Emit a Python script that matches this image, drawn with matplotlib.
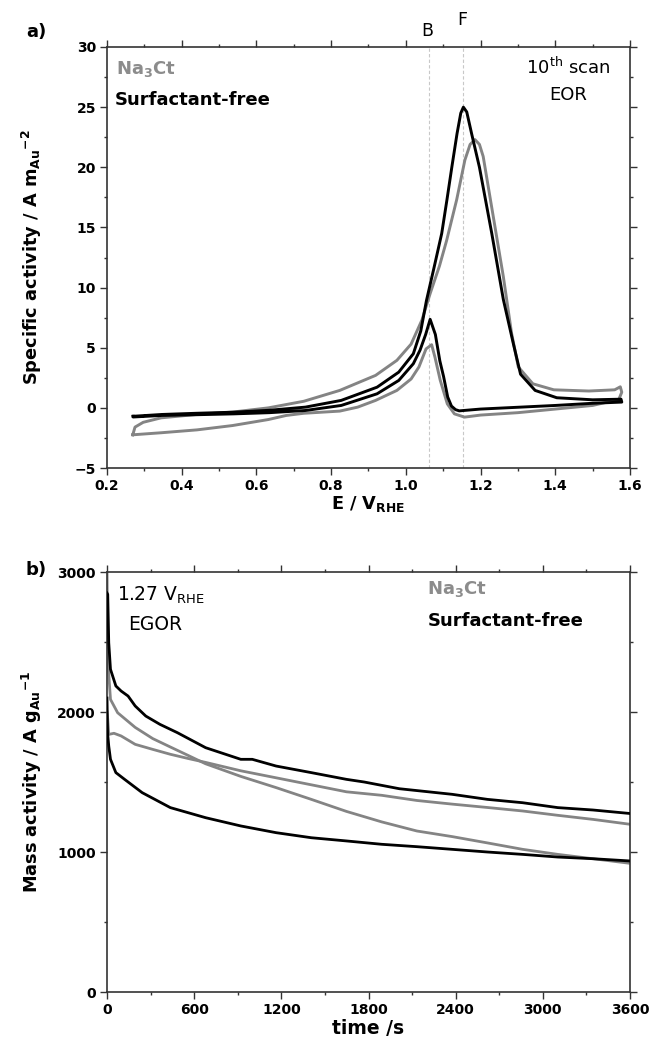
import matplotlib
matplotlib.use("Agg")
import matplotlib.pyplot as plt
from matplotlib.ticker import MultipleLocator

plt.rcParams['font.family'] = ['DejaVu Sans']
plt.rcParams['mathtext.fontset'] = 'dejavusans'

# ---------------- Panel a data: CV, E / V_RHE vs specific activity ----------------
# Surfactant-free (black): forward scan then backward scan
sf_E = [0.270, 0.347, 0.440, 0.539, 0.635, 0.731, 0.827, 0.923, 0.981, 1.020, 1.040,
        1.055, 1.075, 1.096, 1.110, 1.123, 1.137, 1.147, 1.154, 1.163, 1.176, 1.197,
        1.230, 1.261, 1.288, 1.307, 1.346, 1.404, 1.500, 1.576,
        1.578, 1.500, 1.400, 1.300, 1.200, 1.143, 1.133, 1.122, 1.112, 1.101, 1.091,
        1.079, 1.065, 1.053, 1.038, 1.020, 0.981, 0.923, 0.827, 0.731, 0.635, 0.539,
        0.440, 0.347, 0.270, 0.270]
sf_i = [-0.70, -0.55, -0.45, -0.36, -0.20, 0.06, 0.62, 1.72, 2.97, 4.5, 6.4,
        8.9, 11.6, 14.5, 17.3, 20.0, 22.8, 24.5, 25.0, 24.6, 22.8, 20.0,
        14.5, 9.0, 5.3, 2.8, 1.45, 0.84, 0.67, 0.72,
        0.48, 0.38, 0.20, 0.05, -0.10, -0.25, -0.15, 0.15, 0.9, 2.6, 3.9,
        6.1, 7.36, 6.1, 4.8, 3.67, 2.28, 1.17, 0.20, -0.22, -0.40, -0.50,
        -0.57, -0.63, -0.76, -0.70]

# Na3Ct (gray)
na_E = [0.269, 0.275, 0.297, 0.345, 0.440, 0.536, 0.632, 0.727, 0.823, 0.919, 0.976,
        1.014, 1.043, 1.065, 1.090, 1.109, 1.136, 1.158, 1.172, 1.185, 1.197, 1.207,
        1.234, 1.261, 1.283, 1.301, 1.340, 1.396, 1.490, 1.559, 1.574,
        1.578, 1.570, 1.500, 1.400, 1.300, 1.200, 1.157, 1.130, 1.111, 1.092, 1.078,
        1.069, 1.054, 1.035, 1.014, 0.976, 0.919, 0.871, 0.823, 0.727, 0.680, 0.632,
        0.536, 0.441, 0.345, 0.269]
na_i = [-2.24, -1.6, -1.2, -0.83, -0.55, -0.35, 0.0, 0.55, 1.45, 2.7, 3.95,
        5.3, 7.3, 9.5, 11.8, 13.9, 17.3, 20.6, 21.9, 22.3, 21.9, 20.9,
        15.9, 10.9, 6.2, 3.4, 2.0, 1.5, 1.4, 1.5, 1.75,
        1.3, 0.7, 0.2, -0.1, -0.4, -0.6, -0.77, -0.5, 0.33, 2.3, 4.2,
        5.25, 4.9, 3.4, 2.4, 1.45, 0.62, 0.06, -0.27, -0.45, -0.63, -0.97,
        -1.47, -1.83, -2.07, -2.24]

peak_B = 1.062
peak_F = 1.152

# ---------------- Panel b data: chronoamperometry ----------------
sf1_t = [0, 5, 12, 24, 61, 97, 145, 194, 267, 364, 485, 679, 921, 1000, 1164, 1406,
         1648, 1770, 2012, 2376, 2618, 2861, 3103, 3345, 3600]
sf1_m = [2850, 2840, 2495, 2305, 2186, 2150, 2114, 2043, 1971, 1912, 1852, 1745, 1662,
         1662, 1614, 1567, 1519, 1500, 1452, 1412, 1376, 1352, 1317, 1300, 1275]

sf2_t = [0, 4, 12, 24, 61, 121, 242, 436, 679, 921, 1164, 1406, 1648, 1891, 2133,
         2376, 2618, 2861, 3103, 3345, 3600]
sf2_m = [2100, 1850, 1757, 1662, 1567, 1519, 1424, 1317, 1245, 1186, 1138, 1102, 1079,
         1055, 1038, 1019, 1000, 983, 964, 952, 936]

na1_t = [0, 5, 24, 73, 194, 315, 436, 558, 679, 921, 1164, 1406, 1648, 1891, 2133,
         2376, 2618, 2861, 3103, 3345, 3600]
na1_m = [3050, 2376, 2090, 1995, 1890, 1810, 1750, 1690, 1630, 1540, 1460, 1376, 1290,
         1215, 1150, 1110, 1065, 1019, 983, 952, 919]

na2_t = [0, 5, 12, 48, 97, 194, 315, 436, 558, 679, 921, 1164, 1406, 1648, 1891, 2133,
         2376, 2618, 2861, 3103, 3345, 3600]
na2_m = [2000, 1950, 1840, 1848, 1829, 1769, 1733, 1698, 1668, 1640, 1580, 1530, 1480,
         1430, 1405, 1368, 1342, 1318, 1293, 1262, 1233, 1198]

BLACK = '#000000'
GRAY = '#848484'
SPINE = '#333333'

fig = plt.figure(figsize=(6.51, 10.46), dpi=100)
axa = fig.add_axes([107/651, 1-468/1046, 523/651, 421/1046])
axb = fig.add_axes([107/651, 1-992/1046, 523/651, 420/1046])

def style(ax):
    for s in ax.spines.values():
        s.set_linewidth(1.2)
        s.set_color(SPINE)
    ax.tick_params(which='both', direction='out', top=True, right=True,
                   color=SPINE, width=1.0)
    ax.tick_params(which='major', length=5, labelsize=10, pad=3)
    ax.tick_params(which='minor', length=2.5)
    for lab in ax.get_xticklabels() + ax.get_yticklabels():
        lab.set_fontweight('bold')

# ---- panel a ----
axa.axvline(peak_B, color='#c8c8c8', lw=0.8, ls=(0, (3, 2)), zorder=1)
axa.axvline(peak_F, color='#c8c8c8', lw=0.8, ls=(0, (3, 2)), zorder=1)
axa.plot(na_E, na_i, color=GRAY, lw=2.1, zorder=2)
axa.plot(sf_E, sf_i, color=BLACK, lw=2.1, zorder=3)
axa.set_xlim(0.2, 1.6)
axa.set_ylim(-5, 30)
axa.xaxis.set_major_locator(MultipleLocator(0.2))
axa.xaxis.set_minor_locator(MultipleLocator(0.1))
axa.yaxis.set_major_locator(MultipleLocator(5))
axa.yaxis.set_minor_locator(MultipleLocator(2.5))
axa.set_xticks(axa.get_xticks())
axa.set_xticklabels([f"{v:.1f}" for v in axa.get_xticks()])
axa.set_xlim(0.2, 1.6)
style(axa)
axa.set_xlabel(r"E / V$_{\mathbf{RHE}}$", fontsize=12.8, fontweight='bold', labelpad=1)
axa.set_ylabel(r"Specific activity / A m$_{\mathbf{Au}}$$^{\mathbf{-2}}$",
               fontsize=12.8, fontweight='bold')
axa.yaxis.set_label_coords(-0.12, 0.5)

axa.text(0.224, 28.2, r"Na$_{\mathbf{3}}$Ct", color='#8c8c8c', fontsize=13,
         fontweight='bold', va='center', ha='left')
axa.text(0.222, 25.6, "Surfactant-free", color=BLACK, fontsize=13,
         fontweight='bold', va='center', ha='left')
axa.text(1.435, 28.3, r"10$^{\mathrm{th}}$ scan", fontsize=13, ha='center', va='center')
axa.text(1.435, 26.0, "EOR", fontsize=13, ha='center', va='center')
axa.text(peak_B - 0.005, 30.6, "B", fontsize=12.5, ha='center', va='bottom')
axa.text(peak_F, 31.5, "F", fontsize=12.5, ha='center', va='bottom')
axa.text(-0.155, 1.035, "a)", transform=axa.transAxes, fontsize=13,
         fontweight='bold', ha='left', va='center')

# ---- panel b ----
axb.plot(na1_t, na1_m, color=GRAY, lw=2.0, zorder=2)
axb.plot(na2_t, na2_m, color=GRAY, lw=2.0, zorder=2)
axb.plot(sf1_t, sf1_m, color=BLACK, lw=2.0, zorder=3)
axb.plot(sf2_t, sf2_m, color=BLACK, lw=2.0, zorder=3)
axb.set_xlim(0, 3600)
axb.set_ylim(0, 3000)
axb.xaxis.set_major_locator(MultipleLocator(600))
axb.xaxis.set_minor_locator(MultipleLocator(300))
axb.yaxis.set_major_locator(MultipleLocator(1000))
axb.yaxis.set_minor_locator(MultipleLocator(500))
style(axb)
axb.set_xlabel("time /s", fontsize=13.5, fontweight='bold', labelpad=1)
axb.set_ylabel(r"Mass activity / A g$_{\mathbf{Au}}$$^{\mathbf{-1}}$",
               fontsize=12.8, fontweight='bold')
axb.yaxis.set_label_coords(-0.12, 0.5)

axb.text(70, 2793, r"1.27 V$_{\mathrm{RHE}}$", fontsize=13.5, ha='left', va='baseline')
axb.text(330, 2626, "EGOR", fontsize=13.5, ha='center', va='center')
axb.text(2206, 2876, r"Na$_{\mathbf{3}}$Ct", color='#8c8c8c', fontsize=13,
         fontweight='bold', va='center', ha='left')
axb.text(2206, 2650, "Surfactant-free", color=BLACK, fontsize=13,
         fontweight='bold', va='center', ha='left')
axb.text(-0.155, 1.005, "b)", transform=axb.transAxes, fontsize=13,
         fontweight='bold', ha='left', va='center')

fig.savefig("out.png", dpi=100)
